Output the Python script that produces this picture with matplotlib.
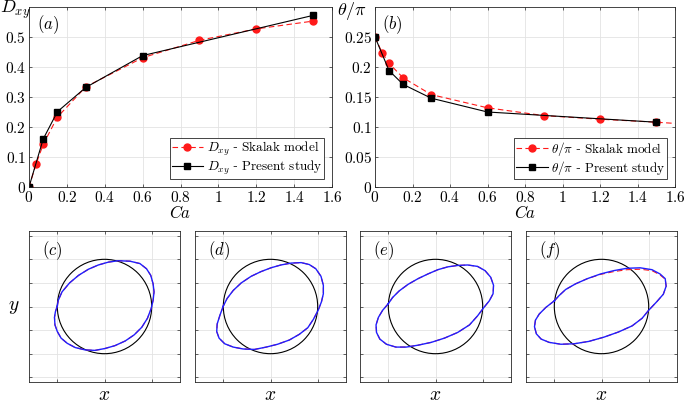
import numpy as np
import matplotlib
matplotlib.use('Agg')
import matplotlib.pyplot as plt
from matplotlib.patches import Circle
from matplotlib.ticker import FuncFormatter

plt.rcParams['mathtext.fontset'] = 'cm'
plt.rcParams['font.family'] = 'serif'
plt.rcParams['font.serif'] = ['DejaVu Serif']

# --- (a), (b): deformation and inclination vs Ca ---
ca_skalak = [0, 0.0375, 0.075, 0.15, 0.3, 0.6, 0.9, 1.2, 1.5]
dxy_skalak = [0, 0.077, 0.142, 0.233, 0.334, 0.431, 0.489, 0.527, 0.553]
theta_skalak = [0.25, 0.224, 0.206, 0.182, 0.154, 0.132, 0.119, 0.113, 0.108]
# dashed Skalak curve in (b) runs on to the edge of the axes
ca_theta_line = ca_skalak + [1.6]
theta_line = theta_skalak + [0.106]

ca_present = [0, 0.075, 0.15, 0.3, 0.6, 1.5]
dxy_present = [0, 0.160, 0.251, 0.332, 0.438, 0.572]
theta_present = [0.25, 0.194, 0.171, 0.148, 0.125, 0.108]

# --- (c)-(f): capsule contours (initial radius = 1) ---
cx_c = [-1.00, -1.04, -1.06, -1.05, -1.00, -0.92, -0.79, -0.62, -0.41, -0.20, 0.01, 0.22, 0.44, 0.63,
        0.79, 0.91, 0.99, 1.03, 1.05, 1.03, 0.98, 0.89, 0.75, 0.54, 0.29, 0.08, -0.13, -0.34, -0.55,
        -0.74, -0.90, -0.98]
cy_c = [0.01, -0.11, -0.23, -0.39, -0.53, -0.67, -0.78, -0.87, -0.92, -0.93, -0.89, -0.83, -0.73, -0.60,
        -0.44, -0.25, -0.04, 0.13, 0.31, 0.48, 0.66, 0.80, 0.91, 0.96, 0.97, 0.94, 0.88, 0.79, 0.66,
        0.50, 0.31, 0.13]

cx_d = [-1.00, -1.07, -1.13, -1.14, -1.09, -0.97, -0.79, -0.58, -0.34, -0.09, 0.15, 0.40, 0.61, 0.79,
        0.91, 1.01, 1.08, 1.12, 1.12, 1.07, 0.96, 0.82, 0.65, 0.44, 0.22, 0.01, -0.20, -0.41, -0.62,
        -0.79, -0.92]
cy_d = [0.01, -0.18, -0.37, -0.53, -0.67, -0.79, -0.86, -0.90, -0.91, -0.86, -0.80, -0.71, -0.59, -0.45,
        -0.27, -0.08, 0.10, 0.27, 0.45, 0.64, 0.80, 0.89, 0.93, 0.92, 0.88, 0.82, 0.74, 0.64, 0.50,
        0.34, 0.17]

cx_e = [-1.00, -1.12, -1.21, -1.26, -1.25, -1.18, -1.04, -0.84, -0.62, -0.37, -0.09, 0.19, 0.47, 0.72,
        0.89, 1.01, 1.14, 1.22, 1.23, 1.17, 1.05, 0.89, 0.68, 0.47, 0.26, 0.05, -0.16, -0.37, -0.58,
        -0.77, -0.91]
cy_e = [0.06, -0.08, -0.23, -0.39, -0.55, -0.69, -0.80, -0.86, -0.86, -0.82, -0.76, -0.67, -0.55, -0.39,
        -0.20, -0.04, 0.12, 0.27, 0.45, 0.62, 0.76, 0.85, 0.88, 0.87, 0.84, 0.78, 0.69, 0.59, 0.47,
        0.33, 0.19]

cx_f = [-1.00, -1.18, -1.32, -1.40, -1.42, -1.38, -1.28, -1.11, -0.86, -0.58, -0.27, 0.05, 0.36, 0.65,
        0.86, 1.00, 1.17, 1.31, 1.37, 1.35, 1.24, 1.07, 0.82, 0.54, 0.26, -0.02, -0.30, -0.55, -0.76,
        -0.90]
cy_f = [0.12, -0.02, -0.16, -0.29, -0.43, -0.58, -0.69, -0.76, -0.80, -0.79, -0.74, -0.65, -0.54, -0.41,
        -0.25, -0.08, 0.10, 0.26, 0.43, 0.59, 0.69, 0.78, 0.82, 0.81, 0.76, 0.69, 0.59, 0.48, 0.36,
        0.23]
# Skalak contour in (f) sits a little under the present one along the top
cy_f_red = [0.12, -0.02, -0.16, -0.29, -0.43, -0.58, -0.69, -0.76, -0.80, -0.79, -0.74, -0.65, -0.54, -0.41,
            -0.25, -0.08, 0.10, 0.26, 0.43, 0.58, 0.67, 0.76, 0.79, 0.78, 0.74, 0.68, 0.59, 0.48, 0.36,
            0.23]

shapes = [(cx_c, cy_c, cy_c, '(c)'), (cx_d, cy_d, cy_d, '(d)'),
          (cx_e, cy_e, cy_e, '(e)'), (cx_f, cy_f, cy_f_red, '(f)')]

frame = '#262626'
gridc = '#e3e3e3'
red = '#ff1a1a'
fmt = FuncFormatter(lambda v, p: '$%g$' % round(v, 3))


def style(ax):
    for s in ax.spines.values():
        s.set_color(frame)
        s.set_linewidth(0.6)
    ax.tick_params(direction='in', length=2.5, width=0.5, color=frame, top=True, right=True,
                   labelsize=11, pad=2)
    ax.grid(True, color=gridc, linewidth=0.6)
    ax.set_axisbelow(True)


def legend(ax):
    leg = ax.legend(loc='lower right', fontsize=9.5, handlelength=2.4, fancybox=False,
                    edgecolor=frame, framealpha=1, borderaxespad=0.6, borderpad=0.15,
                    labelspacing=0.1, handletextpad=0.25)
    leg.get_frame().set_linewidth(0.6)


fig = plt.figure(figsize=(6.85, 4.03), dpi=100)

# (a)
ax = fig.add_axes([29 / 685, 216 / 403, 303 / 685, 180 / 403])
style(ax)
ax.plot(ca_skalak, dxy_skalak, '--o', color=red, lw=0.8, ms=5, dashes=(5, 3),
        label=r'$D_{xy}$ - $\mathrm{Skalak\ model}$')
ax.plot(ca_present, dxy_present, '-s', color='black', lw=0.8, ms=4.5,
        label=r'$D_{xy}$ - $\mathrm{Present\ study}$')
ax.set_xlim(0, 1.6)
ax.set_ylim(0, 0.6)
ax.set_xticks(np.arange(0, 1.61, 0.2))
ax.set_yticks(np.arange(0, 0.51, 0.1))
ax.xaxis.set_major_formatter(fmt)
ax.yaxis.set_major_formatter(fmt)
ax.set_xlabel('$Ca$', fontsize=12, labelpad=0)
ax.text(-0.045, 0.985, '$D_{xy}$', transform=ax.transAxes, ha='center', va='center', fontsize=13)
ax.text(0.025, 0.9, '$(a)$', transform=ax.transAxes, ha='left', va='center', fontsize=12)
legend(ax)

# (b)
ax = fig.add_axes([375 / 685, 216 / 403, 300 / 685, 180 / 403])
style(ax)
ax.plot(ca_theta_line, theta_line, '--', color=red, lw=0.8, dashes=(5, 3))
ax.plot(ca_skalak, theta_skalak, 'o', color=red, ms=5)
ax.plot([], [], '--o', color=red, lw=0.8, ms=5, dashes=(5, 3),
        label=r'$\theta/\pi$ - $\mathrm{Skalak\ model}$')
ax.plot(ca_present, theta_present, '-s', color='black', lw=0.8, ms=4.5,
        label=r'$\theta/\pi$ - $\mathrm{Present\ study}$')
ax.set_xlim(0, 1.6)
ax.set_ylim(0, 0.3)
ax.set_xticks(np.arange(0, 1.61, 0.2))
ax.set_yticks(np.arange(0, 0.251, 0.05))
ax.xaxis.set_major_formatter(fmt)
ax.yaxis.set_major_formatter(fmt)
ax.set_xlabel('$Ca$', fontsize=12, labelpad=0)
ax.text(-0.077, 0.98, r'$\theta/\pi$', transform=ax.transAxes, ha='center', va='center', fontsize=13)
ax.text(0.025, 0.9, '$(b)$', transform=ax.transAxes, ha='left', va='center', fontsize=12)
legend(ax)

# (c)-(f)
lefts = [29, 195, 360, 526]
for i, (sx, sy, sy_red, tag) in enumerate(shapes):
    ax = fig.add_axes([lefts[i] / 685, 21 / 403, 151 / 685, 151 / 403])
    style(ax)
    ax.add_patch(Circle((0, 0), 1, fill=False, edgecolor='black', lw=0.8))
    ax.plot(sx + sx[:1], sy_red + sy_red[:1], '--', color=red, lw=0.8, dashes=(5, 3))
    ax.plot(sx + sx[:1], sy + sy[:1], '-', color='#1f1fff', lw=1.0, solid_joinstyle='round')
    ax.set_xlim(-1.6, 1.6)
    ax.set_ylim(-1.6, 1.6)
    ax.set_xticks([-1, 0, 1])
    ax.set_yticks(np.arange(-1.5, 1.51, 0.5))
    ax.set_xticklabels([])
    ax.set_yticklabels([])
    ax.text(0.085, 0.87, '$' + tag + '$', transform=ax.transAxes, ha='left', va='center', fontsize=12)
    ax.text(0.5, -0.085, '$x$', transform=ax.transAxes, ha='center', va='center', fontsize=14)
    if i == 0:
        ax.text(-0.1, 0.5, '$y$', transform=ax.transAxes, ha='center', va='center', fontsize=14)

fig.savefig('out.png', dpi=100)
